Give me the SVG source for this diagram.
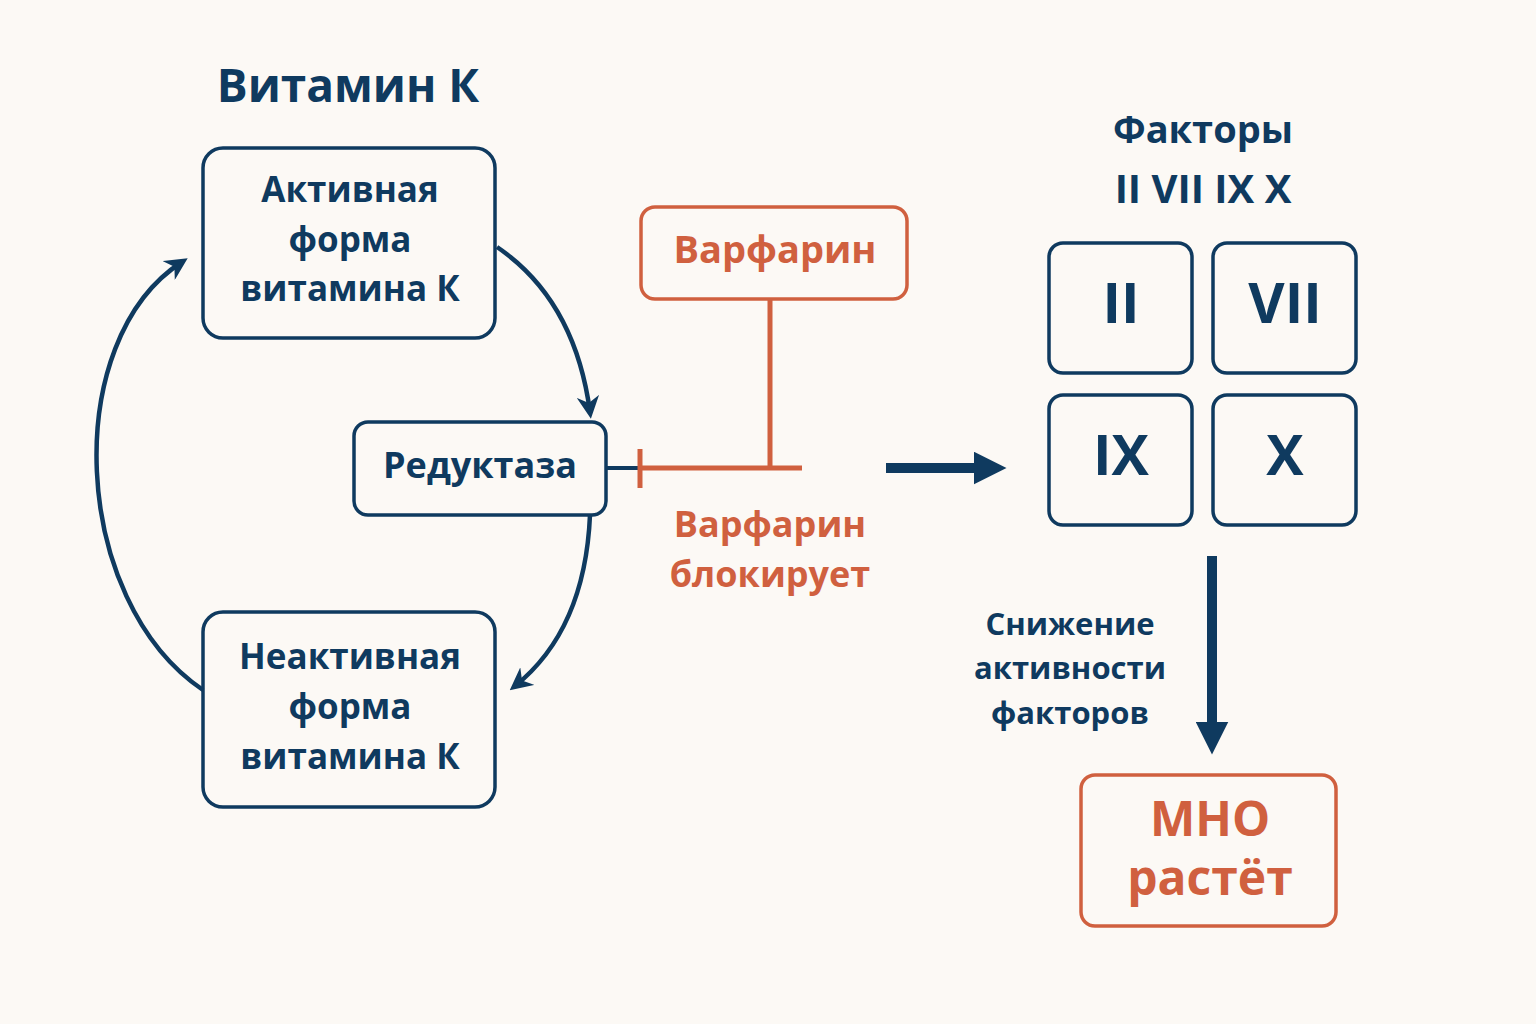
<svg xmlns="http://www.w3.org/2000/svg" width="1536" height="1024" viewBox="0 0 1536 1024">
<style>
text{font-family:"Open Sans","DejaVu Sans",sans-serif;font-weight:700;text-anchor:middle;dominant-baseline:middle}
.n{fill:#0f3a5f}.o{fill:#d0603f}
.bn{fill:none;stroke:#0f3a5f;stroke-width:3.5}
.bo{fill:none;stroke:#d0603f;stroke-width:3.5}
.cn{fill:none;stroke:#0f3a5f;stroke-width:4.5}
</style>
<defs>
<marker id="a" viewBox="0 0 10 10" refX="7" refY="5" markerWidth="5" markerHeight="5" orient="auto"><path d="M0,0L10,5L0,10L3,5z" fill="#0f3a5f"/></marker>
<marker id="b" viewBox="0 0 10 10" refX="5" refY="5" markerWidth="3.3" markerHeight="3.3" orient="auto"><path d="M0,0L10,5L0,10z" fill="#0f3a5f"/></marker>
</defs>
<rect width="1536" height="1024" fill="#fcf9f5"/>
<text x="348" y="90" class="n" font-size="46">Витамин К</text>
<g id="active"><rect x="203" y="148" width="292" height="190" rx="20" class="bn"/>
<text class="n" font-size="35" x="350" y="193">Активная</text><text class="n" font-size="35" x="350" y="243">форма</text><text class="n" font-size="35" x="350" y="292">витамина К</text></g>
<g id="reductase"><rect x="354" y="422" width="252" height="93" rx="14" class="bn"/><text class="n" font-size="36" x="480" y="468">Редуктаза</text></g>
<g id="inactive"><rect x="203" y="612" width="292" height="195" rx="20" class="bn"/>
<text class="n" font-size="35" x="350" y="660">Неактивная</text><text class="n" font-size="35" x="350" y="710">форма</text><text class="n" font-size="35" x="350" y="760">витамина К</text></g>
<g id="warfarin"><rect x="641" y="207" width="266" height="92" rx="14" class="bo"/><text class="o" font-size="38" x="775" y="253">Варфарин</text></g>
<g id="factors-title"><text class="n" font-size="38" x="1203" y="133">Факторы</text><text class="n" font-size="40" x="1203" y="192">II VII IX X</text></g>
<g id="f2"><rect x="1049" y="243" width="143" height="130" rx="14" class="bn"/><text class="n" font-size="56" x="1121" y="308">II</text></g>
<g id="f7"><rect x="1213" y="243" width="143" height="130" rx="14" class="bn"/><text class="n" font-size="56" x="1285" y="308">VII</text></g>
<g id="f9"><rect x="1049" y="395" width="143" height="130" rx="14" class="bn"/><text class="n" font-size="56" x="1121" y="460">IX</text></g>
<g id="f10"><rect x="1213" y="395" width="143" height="130" rx="14" class="bn"/><text class="n" font-size="56" x="1285" y="460">X</text></g>
<g id="mno"><rect x="1081" y="775" width="255" height="151" rx="14" class="bo"/><text class="o" font-size="48" x="1210" y="823">МНО</text><text class="o" font-size="48" x="1210" y="882">растёт</text></g>
<g id="connectors">
<path d="M497,247 Q575,300 590,412" class="cn" marker-end="url(#a)"/>
<path d="M590,515 Q585,630 515,686" class="cn" marker-end="url(#a)"/>
<path d="M203,690 C70,600 60,340 182,262" class="cn" marker-end="url(#a)"/>
<line x1="606" y1="468" x2="640" y2="468" stroke="#0f3a5f" stroke-width="4"/>
<line x1="770" y1="299" x2="770" y2="468" stroke="#d0603f" stroke-width="5"/>
<line x1="640" y1="468" x2="802" y2="468" stroke="#d0603f" stroke-width="5"/>
<line x1="640" y1="449" x2="640" y2="488" stroke="#d0603f" stroke-width="5"/>
<line x1="886" y1="468" x2="990" y2="468" stroke="#0f3a5f" stroke-width="10" marker-end="url(#b)"/>
<line x1="1212" y1="556" x2="1212" y2="738" stroke="#0f3a5f" stroke-width="10" marker-end="url(#b)"/>
</g>
<text class="o" font-size="36" x="770" y="527">Варфарин</text><text class="o" font-size="36" x="770" y="577">блокирует</text>
<text class="n" font-size="31" x="1070" y="627">Снижение</text><text class="n" font-size="31" x="1070" y="671">активности</text><text class="n" font-size="31" x="1070" y="716">факторов</text>
</svg>
